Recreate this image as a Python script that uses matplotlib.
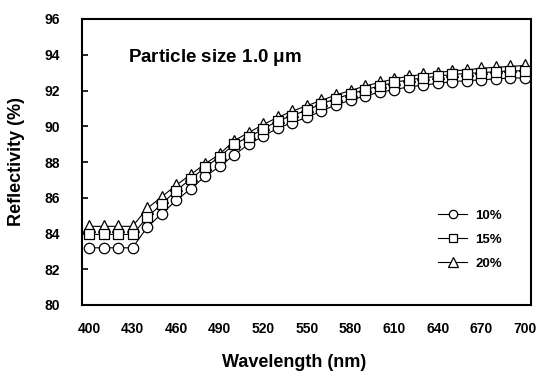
import matplotlib
matplotlib.use("Agg")
import matplotlib.pyplot as plt

wavelength = list(range(400, 701, 10))
refl_10 = [83.2, 83.2, 83.2, 83.2, 84.35, 85.1, 85.85, 86.5, 87.2, 87.75,
           88.4, 89.0, 89.45, 89.9, 90.2, 90.5, 90.85, 91.2, 91.45, 91.7,
           91.9, 92.05, 92.2, 92.3, 92.4, 92.5, 92.55, 92.6, 92.65, 92.7, 92.7]
refl_15 = [83.95, 83.95, 83.95, 83.95, 84.9, 85.65, 86.4, 87.05, 87.7, 88.3,
           89.0, 89.4, 89.85, 90.3, 90.6, 90.9, 91.25, 91.55, 91.8, 92.05,
           92.25, 92.45, 92.6, 92.7, 92.8, 92.9, 92.95, 93.0, 93.05, 93.1, 93.1]
refl_20 = [84.4, 84.4, 84.4, 84.4, 85.4, 86.05, 86.7, 87.3, 87.9, 88.45,
           89.2, 89.65, 90.1, 90.5, 90.85, 91.15, 91.45, 91.75, 92.0, 92.25,
           92.45, 92.65, 92.8, 92.9, 93.0, 93.1, 93.15, 93.25, 93.3, 93.35, 93.4]
series_labels = ["10%", "15%", "20%"]
x_ticks = list(range(400, 701, 30))
y_ticks = list(range(80, 97, 2))

plt.rcParams['font.family'] = ['Liberation Sans', 'DejaVu Sans']

fig = plt.figure(figsize=(5.45, 3.76), dpi=100)
ax = fig.add_axes([82/545, 1-305/376, (531-82)/545, (305-19)/376])

mk = dict(color='black', lw=0.8, markerfacecolor='white', markeredgecolor='black',
          markeredgewidth=0.9)
l20, = ax.plot(wavelength, refl_20, marker='^', ms=9, label=series_labels[2], **mk)
l10, = ax.plot(wavelength, refl_10, marker='o', ms=7.5, label=series_labels[0], **mk)
l15, = ax.plot(wavelength, refl_15, marker='s', ms=6.5, label=series_labels[1], **mk)

ax.set_xlim(395.2, 704.2)
ax.set_ylim(80, 96)
ax.set_xticks(x_ticks)
ax.set_yticks(y_ticks)
ax.tick_params(axis='y', direction='in', length=4, width=1.2, labelsize=10, pad=16)
ax.tick_params(axis='x', length=0, labelsize=10, pad=12)
for lab in ax.get_xticklabels() + ax.get_yticklabels():
    lab.set_fontweight('bold')
for s in ax.spines.values():
    s.set_linewidth(1.5)

ax.set_xlabel("Wavelength (nm)", fontsize=13, fontweight='bold')
ax.xaxis.set_label_coords((294-82)/449, (305-354)/286)
ax.set_ylabel("Reflectivity (%)", fontsize=13, fontweight='bold')
ax.yaxis.set_label_coords((25-82)/449, 0.5)

ax.text(0.102, 0.864, "Particle size 1.0 $\\mathregular{\\mu}$m", transform=ax.transAxes,
        fontsize=13.5, fontweight='bold', va='center', ha='left')

leg = ax.legend(handles=[l10, l15, l20], loc='center left', bbox_to_anchor=(0.793, 0.228),
                frameon=False, handlelength=2.2, handletextpad=0.6,
                labelspacing=0.9, borderpad=0, borderaxespad=0, markerscale=0.8,
                prop={'weight': 'bold', 'size': 9.5})

fig.savefig("out.png", dpi=100)
